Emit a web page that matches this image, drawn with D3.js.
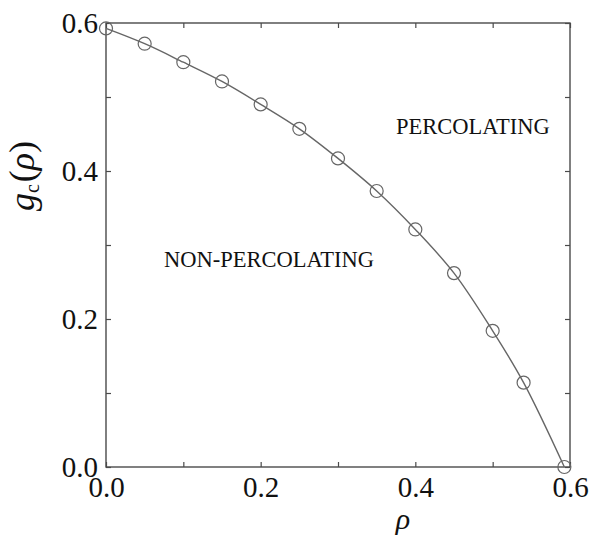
<!DOCTYPE html>
<html>
<head>
<meta charset="utf-8">
<script src="https://cdn.jsdelivr.net/npm/d3@7"></script>
<style>
  html, body { margin: 0; padding: 0; background: #fff; }
  svg { display: block; }
</style>
</head>
<body>
<svg id="chart" width="590" height="543" font-family="Liberation Serif, Times New Roman, serif"></svg>
<script>
// Percolation threshold g_c as a function of rho
const rho = [0, 0.05, 0.10, 0.15, 0.20, 0.25, 0.30, 0.35, 0.40, 0.45, 0.50, 0.54, 0.5927];
const gc  = [0.5927, 0.572, 0.547, 0.521, 0.490, 0.457, 0.417, 0.373, 0.321, 0.262, 0.184, 0.114, 0.0];

const tickValues = [0, 0.1, 0.2, 0.3, 0.4, 0.5, 0.6];
const labelValues = [0, 0.2, 0.4, 0.6];
const regionLabels = [
  { text: "PERCOLATING", x: 0.375, y: 0.45 },
  { text: "NON-PERCOLATING", x: 0.075, y: 0.27 }
];

const SERIF = "Liberation Serif, Times New Roman, serif";
const W = 590, H = 543;
const margin = { left: 106, right: 20, top: 23, bottom: 76 };
const iw = W - margin.left - margin.right;
const ih = H - margin.top - margin.bottom;

const svg = d3.select("#chart");
const g = svg.append("g").attr("transform", `translate(${margin.left},${margin.top})`);

const x = d3.scaleLinear().domain([0, 0.6]).range([0, iw]);
const y = d3.scaleLinear().domain([0, 0.6]).range([ih, 0]);

const frameColor = "#4a4a4a";
const tickLen = 5;
const fmt = d3.format(".1f");
const isLabelled = d => labelValues.some(v => Math.abs(v - d) < 1e-9);

// inward ticks on all four sides
function styleAxis(sel) {
  sel.attr("font-family", SERIF).attr("font-size", 29);
  sel.select(".domain").remove();
  sel.selectAll(".tick line").attr("stroke", frameColor).attr("stroke-width", 1.2);
  sel.selectAll(".tick text").attr("fill", "#111");
}

const axisB = g.append("g").attr("transform", `translate(0,${ih})`)
  .call(d3.axisBottom(x).tickValues(tickValues).tickSize(-tickLen).tickPadding(9)
    .tickFormat(d => isLabelled(d) ? fmt(d) : ""));
styleAxis(axisB);

const axisT = g.append("g")
  .call(d3.axisTop(x).tickValues(tickValues).tickSize(-tickLen).tickFormat(""));
styleAxis(axisT);

const axisL = g.append("g")
  .call(d3.axisLeft(y).tickValues(tickValues).tickSize(-tickLen).tickPadding(8)
    .tickFormat(d => isLabelled(d) ? fmt(d) : ""));
styleAxis(axisL);

const axisR = g.append("g").attr("transform", `translate(${iw},0)`)
  .call(d3.axisRight(y).tickValues(tickValues).tickSize(-tickLen).tickFormat(""));
styleAxis(axisR);

// frame
g.append("rect")
  .attr("x", 0).attr("y", 0).attr("width", iw).attr("height", ih)
  .attr("fill", "none").attr("stroke", frameColor).attr("stroke-width", 1.4);

// curve through the data
const pts = rho.map((r, i) => [r, gc[i]]);
const line = d3.line()
  .x(d => x(d[0])).y(d => y(d[1]))
  .curve(d3.curveCatmullRom.alpha(0.5));
g.append("path")
  .datum(pts)
  .attr("d", line)
  .attr("fill", "none")
  .attr("stroke", "#666")
  .attr("stroke-width", 1.4);

// open circle markers
g.selectAll("circle.pt")
  .data(pts)
  .join("circle")
  .attr("class", "pt")
  .attr("cx", d => x(d[0]))
  .attr("cy", d => y(d[1]))
  .attr("r", 6.5)
  .attr("fill", "none")
  .attr("stroke", "#666")
  .attr("stroke-width", 1.2);

// region labels
g.selectAll("text.region")
  .data(regionLabels)
  .join("text")
  .attr("class", "region")
  .attr("x", d => x(d.x))
  .attr("y", d => y(d.y))
  .attr("font-family", SERIF)
  .attr("font-size", 22.5)
  .attr("fill", "#111")
  .text(d => d.text);

// x-axis title
svg.append("text")
  .attr("x", 403).attr("y", 529)
  .attr("text-anchor", "middle")
  .attr("font-family", SERIF)
  .attr("font-size", 30)
  .attr("font-style", "italic")
  .attr("fill", "#111")
  .text("ρ");

// y-axis title
const yt = svg.append("text")
  .attr("transform", "translate(34,176) rotate(-90)")
  .attr("text-anchor", "middle")
  .attr("font-family", SERIF)
  .attr("font-size", 36)
  .attr("fill", "#111");
yt.append("tspan").attr("font-style", "italic").text("g");
yt.append("tspan").attr("dy", 5).attr("font-size", 20).text("c");
yt.append("tspan").attr("dy", -5).attr("dx", 2).text("(");
yt.append("tspan").attr("font-style", "italic").text("ρ");
yt.append("tspan").text(")");
</script>
</body>
</html>
